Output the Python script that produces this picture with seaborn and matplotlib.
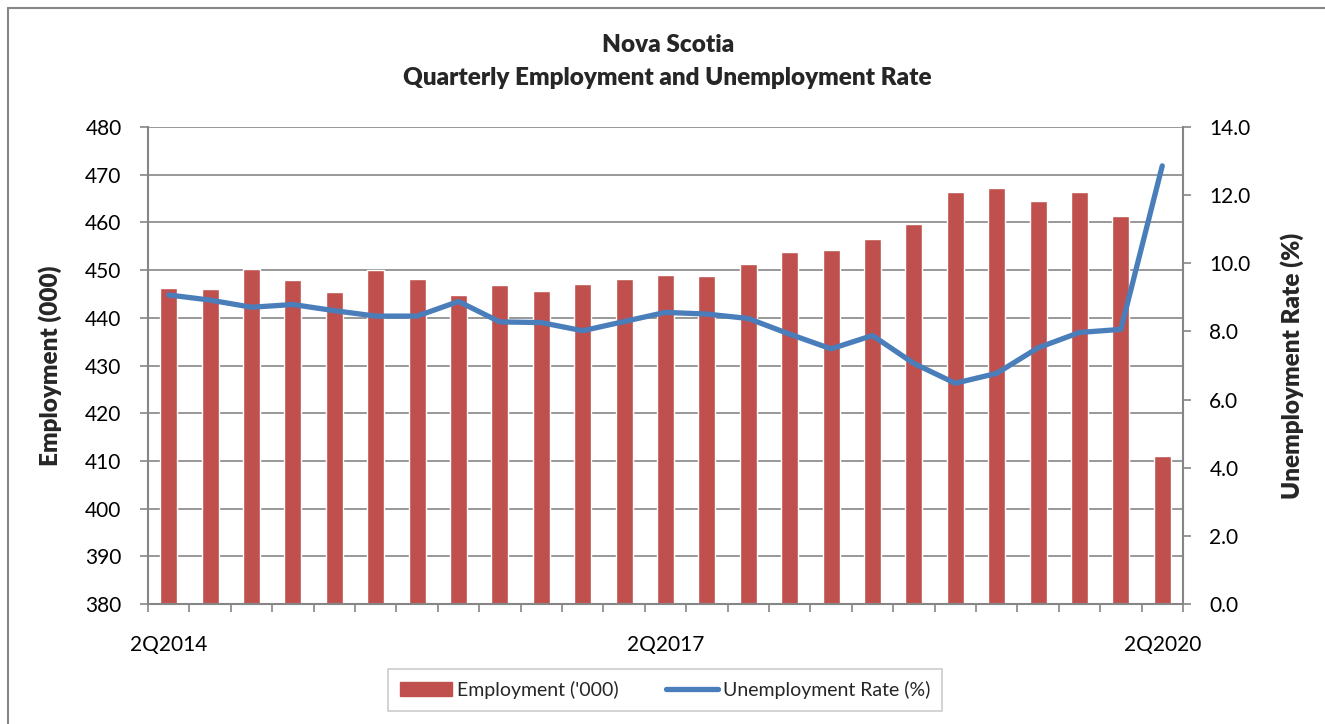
import numpy as np
import pandas as pd
import matplotlib
matplotlib.use("Agg")
import matplotlib.pyplot as plt
from matplotlib.lines import Line2D
from matplotlib.ticker import FixedLocator, NullFormatter
import seaborn as sns

# Quarterly series, 2Q2014 through 2Q2020
quarters = ["2Q2014", "3Q2014", "4Q2014", "1Q2015", "2Q2015", "3Q2015", "4Q2015",
            "1Q2016", "2Q2016", "3Q2016", "4Q2016", "1Q2017", "2Q2017", "3Q2017",
            "4Q2017", "1Q2018", "2Q2018", "3Q2018", "4Q2018", "1Q2019", "2Q2019",
            "3Q2019", "4Q2019", "1Q2020", "2Q2020"]
employment = [446.2, 446.1, 450.3, 448.0, 445.5, 450.1, 448.2, 444.7, 446.8, 445.6,
              447.1, 448.2, 448.9, 448.7, 451.3, 453.7, 454.3, 456.6, 459.6, 466.4,
              467.3, 464.4, 466.4, 461.4, 411.0]
unemployment_rate = [9.07, 8.92, 8.71, 8.79, 8.61, 8.45, 8.45, 8.88, 8.28, 8.26,
                     8.02, 8.29, 8.56, 8.51, 8.38, 7.92, 7.49, 7.88, 7.06, 6.48,
                     6.77, 7.52, 7.97, 8.06, 12.86]
labelled_quarters = ["2Q2014", "2Q2017", "2Q2020"]

left_ticks = [380, 390, 400, 410, 420, 430, 440, 450, 460, 470, 480]
right_ticks = [0.0, 2.0, 4.0, 6.0, 8.0, 10.0, 12.0, 14.0]

bar_color = "#C0504D"
line_color = "#4A7EBB"
axis_grey = "#868686"

df = pd.DataFrame({"quarter": quarters,
                   "employment": employment,
                   "rate": unemployment_rate})
df["pos"] = np.arange(len(df))

sns.set_theme(style="white")
plt.rcParams["font.family"] = ["Lato", "DejaVu Sans"]

fig = plt.figure(figsize=(13.25, 7.24), dpi=100)
ax = fig.add_axes([0.1117, 0.1657, 0.7811, 0.6589])

sns.barplot(data=df, x="quarter", y="employment", color=bar_color,
            width=0.41, saturation=1, ax=ax, zorder=2, label="Employment ('000)")
ax.set_ylim(380, 480)
ax.set_xlim(-0.5, len(df) - 0.5)
ax.set_yticks(left_ticks)
ax.set_yticklabels([str(v) for v in left_ticks])
ax.grid(axis="y", color=axis_grey, linewidth=1.2, zorder=0)
ax.set_axisbelow(True)

# x axis: tick marks between quarters, labels only on selected quarters
ax.set_xticks([quarters.index(q) for q in labelled_quarters])
ax.set_xticklabels(labelled_quarters)
ax.xaxis.set_minor_locator(FixedLocator(np.arange(-0.5, len(df), 1.0)))
ax.xaxis.set_minor_formatter(NullFormatter())
ax.tick_params(axis="x", which="major", length=0, pad=22, labelsize=15, colors="black")
ax.tick_params(axis="x", which="minor", length=6, width=1.2, color=axis_grey,
               direction="out", bottom=True)
ax.tick_params(axis="y", which="major", length=6, width=1.2, color=axis_grey,
               direction="out", left=True, labelsize=15, labelcolor="black", pad=13)
ax.set_xlabel("")
ax.set_ylabel("Employment (000)", fontsize=17.5, fontweight="heavy")
ax.yaxis.set_label_coords(-0.083, 0.5)

for side in ["left", "bottom"]:
    ax.spines[side].set_color(axis_grey)
    ax.spines[side].set_linewidth(1.5)
ax.spines["top"].set_visible(False)
ax.spines["right"].set_visible(False)

ax2 = ax.twinx()
sns.lineplot(data=df, x="pos", y="rate", color=line_color, linewidth=3.8,
             ax=ax2, zorder=3, label="Unemployment Rate (%)")
ax2.set_ylim(0, 14)
ax2.set_xlim(-0.5, len(df) - 0.5)
ax2.set_yticks(right_ticks)
ax2.set_yticklabels([f"{v:.1f}" for v in right_ticks])
ax2.tick_params(axis="y", length=6, width=1.2, color=axis_grey, direction="out",
                right=True, labelsize=15, labelcolor="black", pad=13)
ax2.set_ylabel("Unemployment Rate (%)", fontsize=17.5, fontweight="heavy")
ax2.yaxis.set_label_coords(1.094, 0.5)
ax2.grid(False)
for side in ["top", "left", "bottom"]:
    ax2.spines[side].set_visible(False)
ax2.spines["right"].set_color(axis_grey)
ax2.spines["right"].set_linewidth(1.5)
if ax2.get_legend() is not None:
    ax2.get_legend().remove()
if ax.get_legend() is not None:
    ax.get_legend().remove()

# Titles
fig.text(0.504, 0.938, "Nova Scotia", ha="center", va="center",
         fontsize=17.5, fontweight="heavy")
fig.text(0.504, 0.892, "Quarterly Employment and Unemployment Rate", ha="center",
         va="center", fontsize=17.5, fontweight="heavy")

# Legend below the plot
handles = [plt.Rectangle((0, 0), 1, 1, color=bar_color),
           Line2D([0], [0], color=line_color, linewidth=3.8)]
leg = fig.legend(handles, ["Employment ('000)", "Unemployment Rate (%)"],
                 loc="center", bbox_to_anchor=(0.502, 0.047), ncol=2,
                 frameon=True, fancybox=False, fontsize=14, handlelength=2.7,
                 handletextpad=0.25, columnspacing=2.4, borderpad=0.6,
                 borderaxespad=0)
leg.get_frame().set_edgecolor("#BFBFBF")
leg.get_frame().set_linewidth(1.2)

# Chart-area border along the top and left edges
fig.add_artist(Line2D([8 / 1325, 8 / 1325], [0, 1 - 8 / 724],
                      transform=fig.transFigure, color=axis_grey, linewidth=1.5))
fig.add_artist(Line2D([8 / 1325, 1], [1 - 8 / 724, 1 - 8 / 724],
                      transform=fig.transFigure, color=axis_grey, linewidth=1.5))

fig.savefig("out.png", dpi=100)
